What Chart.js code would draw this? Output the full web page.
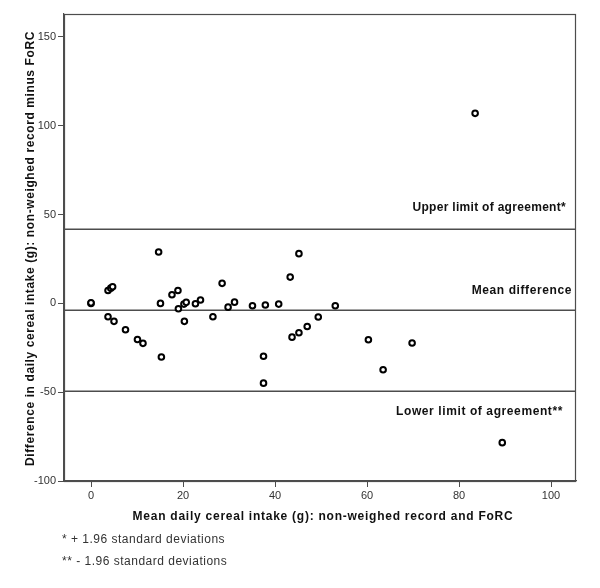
<!DOCTYPE html>
<html>
<head>
<meta charset="utf-8">
<script src="https://cdn.jsdelivr.net/npm/chart.js@4/dist/chart.umd.min.js"></script>
<style>
  html, body { margin: 0; padding: 0; background: #fff; }
  #wrap { width: 600px; height: 588px; position: relative; }
</style>
</head>
<body>
<div id="wrap"><canvas id="c" width="600" height="588"></canvas></div>
<script>
// ---- data ----
const meanIntake = [0, 0, 3.7, 4.3, 4.7, 14.7, 15.1, 17.6, 18.9, 19.0, 20.2, 20.7, 22.7, 23.8, 28.5, 29.8, 31.2, 35.1, 37.9, 40.8, 43.3, 45.2, 53.1, 3.7, 5.0, 7.5, 10.1, 11.3, 15.3, 20.3, 26.5, 49.4, 47.0, 45.2, 43.7, 37.5, 37.5, 60.3, 63.5, 69.8, 83.5, 89.4];
const difference = [0, 0.3, 7.3, 8.6, 9.4, 28.9, 0, 4.9, 7.3, -3.0, -0.4, 0.6, -0.2, 1.9, 11.3, -2.1, 0.7, -1.3, -0.9, -0.4, 14.8, 28.0, -1.3, -7.5, -10.1, -14.8, -20.3, -22.5, -30.2, -10.1, -7.5, -7.7, -13.0, -16.5, -19.0, -29.8, -44.9, -20.5, -37.4, -22.3, 107, -78.4];

const upperLimit = 41.7;
const meanDifference = -3.9;
const lowerLimit = -49.5;

const xBounds = [-5.87, 105.43];
const yBounds = [-100, 162.95];
const xTickValues = [0, 20, 40, 60, 80, 100];
const yTickValues = [-100, -50, 0, 50, 100, 150];

const limitLabels = ['Upper limit of agreement*', 'Mean difference', 'Lower limit of agreement**'];
const xTitle = 'Mean daily cereal intake (g): non-weighed record and FoRC';
const yTitle = 'Difference in daily cereal intake (g): non-weighed record minus FoRC';
const footnotes = ['* + 1.96 standard deviations', '** - 1.96 standard deviations'];

// ---- build datasets ----
const points = meanIntake.map((x, i) => ({ x: x, y: difference[i] }));
function hLine(v) { return [{ x: xBounds[0], y: v }, { x: xBounds[1], y: v }]; }

const lineStyle = {
  type: 'line', borderColor: '#4d4d4d', borderWidth: 1.5, pointRadius: 0,
  fill: false, tension: 0, order: 2
};

const FONT = "'Liberation Sans', Arial, sans-serif";
Chart.defaults.font.family = FONT;

const decor = {
  id: 'decor',
  afterDraw(chart) {
    const { ctx, chartArea: a, scales } = chart;
    const y = scales.y;
    ctx.save();
    // box
    ctx.strokeStyle = '#4d4d4d';
    ctx.lineWidth = 1.2;
    ctx.strokeRect(a.left + 0.5, a.top + 0.5, a.right - a.left - 1, a.bottom - a.top);

    // limit labels
    ctx.fillStyle = '#111';
    ctx.font = "bold 12px " + FONT;
    ctx.textAlign = 'right';
    ctx.textBaseline = 'middle';
    ctx.letterSpacing = '0.3px';
    ctx.fillText(limitLabels[0], 566, y.getPixelForValue(upperLimit) - 22);
    ctx.letterSpacing = '0.6px';
    ctx.fillText(limitLabels[1], 572, y.getPixelForValue(meanDifference) - 20);
    ctx.fillText(limitLabels[2], 563, y.getPixelForValue(lowerLimit) + 20);

    // x title
    ctx.textAlign = 'center';
    ctx.letterSpacing = '0.75px';
    ctx.fillText(xTitle, (a.left + a.right) / 2 + 3, 517);

    // y title
    ctx.letterSpacing = '0.6px';
    ctx.save();
    ctx.translate(31, (a.top + a.bottom) / 2 + 1);
    ctx.rotate(-Math.PI / 2);
    ctx.fillText(yTitle, 0, 0);
    ctx.restore();

    // footnotes
    ctx.font = "12px " + FONT;
    ctx.letterSpacing = '0.5px';
    ctx.fillStyle = '#333';
    ctx.textAlign = 'left';
    ctx.fillText(footnotes[0], 62, 540);
    ctx.fillText(footnotes[1], 62, 562);
    ctx.restore();
  }
};

new Chart(document.getElementById('c'), {
  type: 'scatter',
  data: {
    datasets: [
      {
        type: 'scatter', data: points, pointStyle: 'circle', pointRadius: 2.8,
        pointHoverRadius: 2.8, borderWidth: 2, pointBorderWidth: 2,
        borderColor: '#000', backgroundColor: '#fff', order: 1
      },
      Object.assign({ data: hLine(upperLimit) }, lineStyle),
      Object.assign({ data: hLine(meanDifference) }, lineStyle),
      Object.assign({ data: hLine(lowerLimit) }, lineStyle)
    ]
  },
  plugins: [decor],
  options: {
    responsive: false,
    animation: false,
    events: [],
    layout: { padding: { top: 14, right: 24, left: 0, bottom: 0 } },
    plugins: { legend: { display: false }, tooltip: { enabled: false } },
    scales: {
      x: {
        type: 'linear', min: xBounds[0], max: xBounds[1],
        afterFit(s) { s.height = 107; },
        afterBuildTicks(s) { s.ticks = xTickValues.map(v => ({ value: v })); },
        grid: { drawOnChartArea: false, drawTicks: true, tickLength: 6, tickColor: '#4d4d4d', lineWidth: 1 },
        border: { display: true, color: '#4d4d4d', width: 1.2 },
        ticks: { font: { size: 11 }, color: '#333', padding: 2, maxRotation: 0 }
      },
      y: {
        type: 'linear', min: yBounds[0], max: yBounds[1],
        afterFit(s) { s.width = 64; },
        afterBuildTicks(s) { s.ticks = yTickValues.map(v => ({ value: v })); },
        grid: { drawOnChartArea: false, drawTicks: true, tickLength: 6, tickColor: '#4d4d4d', lineWidth: 1 },
        border: { display: true, color: '#4d4d4d', width: 1.2 },
        ticks: { font: { size: 11 }, color: '#333', padding: 2 }
      }
    }
  }
});
</script>
</body>
</html>
